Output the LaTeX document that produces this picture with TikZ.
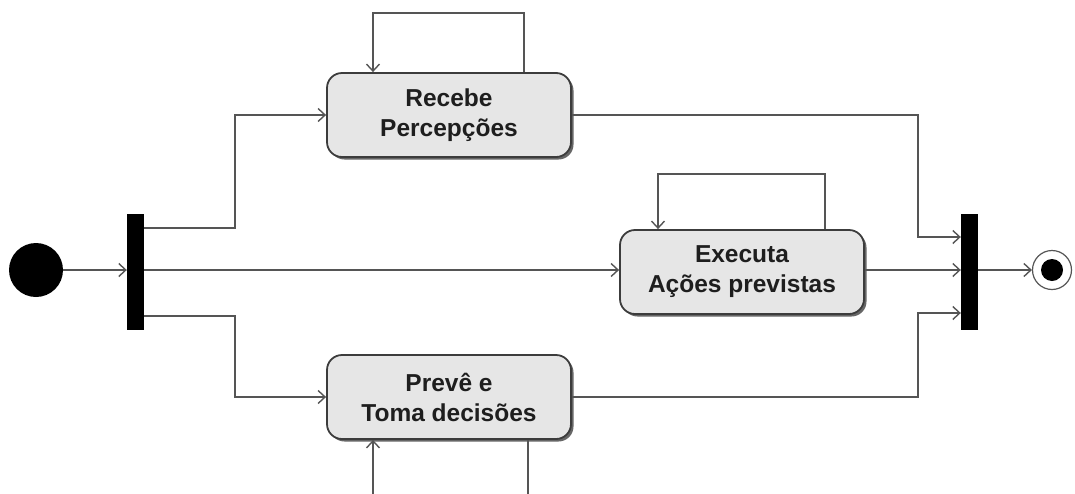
\documentclass[tikz,border=0pt]{standalone}
\usepackage{fontspec}
\setmainfont{Liberation Sans}
\usetikzlibrary{arrows.meta,shadows}
\definecolor{ln}{HTML}{555555}
\definecolor{bx}{HTML}{E6E6E6}
\definecolor{bd}{HTML}{3C3C3C}
\definecolor{tx}{HTML}{1E1E1E}
\tikzset{
  act/.style={draw=bd, line width=1.8pt, fill=bx, rounded corners=15pt,
    minimum width=244pt, minimum height=84pt, align=center, text=tx,
    font=\fontsize{24.5}{30}\selectfont\bfseries,
    drop shadow={shadow xshift=2.5pt, shadow yshift=-2.5pt, fill=black!60, opacity=1}},
  bar/.style={fill=black, draw=none, minimum width=17pt, minimum height=116pt, inner sep=0pt},
  flow/.style={draw=ln, line width=1.6pt, -{Straight Barb[length=7pt,width=13pt,line width=1.4pt]}},
  plain/.style={draw=ln, line width=1.6pt}
}
\begin{document}
\begin{tikzpicture}[x=1pt,y=-1pt]
\clip (0,0) rectangle (1075,493);
\fill[white] (0,0) rectangle (1075,493);
% nodes
\node[circle, fill=black, minimum size=54pt, inner sep=0pt] (start) at (36,270) {};
\node[bar] (fork) at (135.5,272) {};
\node[bar] (join) at (969.5,272) {};
\node[act] (rec) at (449,115) {Recebe\\Percepções};
\node[act] (exe) at (742,272) {Executa\\Ações previstas};
\node[act] (pre) at (449,397) {Prevê e\\Toma decisões};
\node[circle, draw=ln, line width=1.2pt, fill=white, minimum size=39pt, inner sep=0pt] (end) at (1052,270) {};
\node[circle, fill=black, minimum size=22pt, inner sep=0pt] (endin) at (end) {};
% helper coordinates
\coordinate (fa) at (235,228);
\coordinate (fb) at (235,316);
\coordinate (ja) at (918,237);
\coordinate (jb) at (918,313);
\coordinate (l1a) at (524,13);
\coordinate (l1b) at (373,13);
\coordinate (l2a) at (825,174);
\coordinate (l2b) at (658,174);
\coordinate (l3a) at (528,520);
\coordinate (l3b) at (373,520);
% edges
\draw[flow] (start) -- (fork.west |- start);
\draw[flow] (fork.east |- fa) -- (fa) |- (rec.west);
\draw[flow] (fork.east |- start) -- (exe.west |- start);
\draw[flow] (fork.east |- fb) -- (fb) |- (pre.west);
\draw[flow] (rec.east) -| (ja) -- (join.west |- ja);
\draw[flow] (exe.east |- start) -- (join.west |- start);
\draw[flow] (pre.east) -| (jb) -- (join.west |- jb);
\draw[flow] (join.east |- end) -- (end.west);
% self loops
\draw[flow] (rec.north -| l1a) -- (l1a) -- (l1b) -- (rec.north -| l1b);
\draw[flow] (exe.north -| l2a) -- (l2a) -- (l2b) -- (exe.north -| l2b);
\draw[flow] (pre.south -| l3a) -- (l3a) -- (l3b) -- (pre.south -| l3b);
\end{tikzpicture}
\end{document}
